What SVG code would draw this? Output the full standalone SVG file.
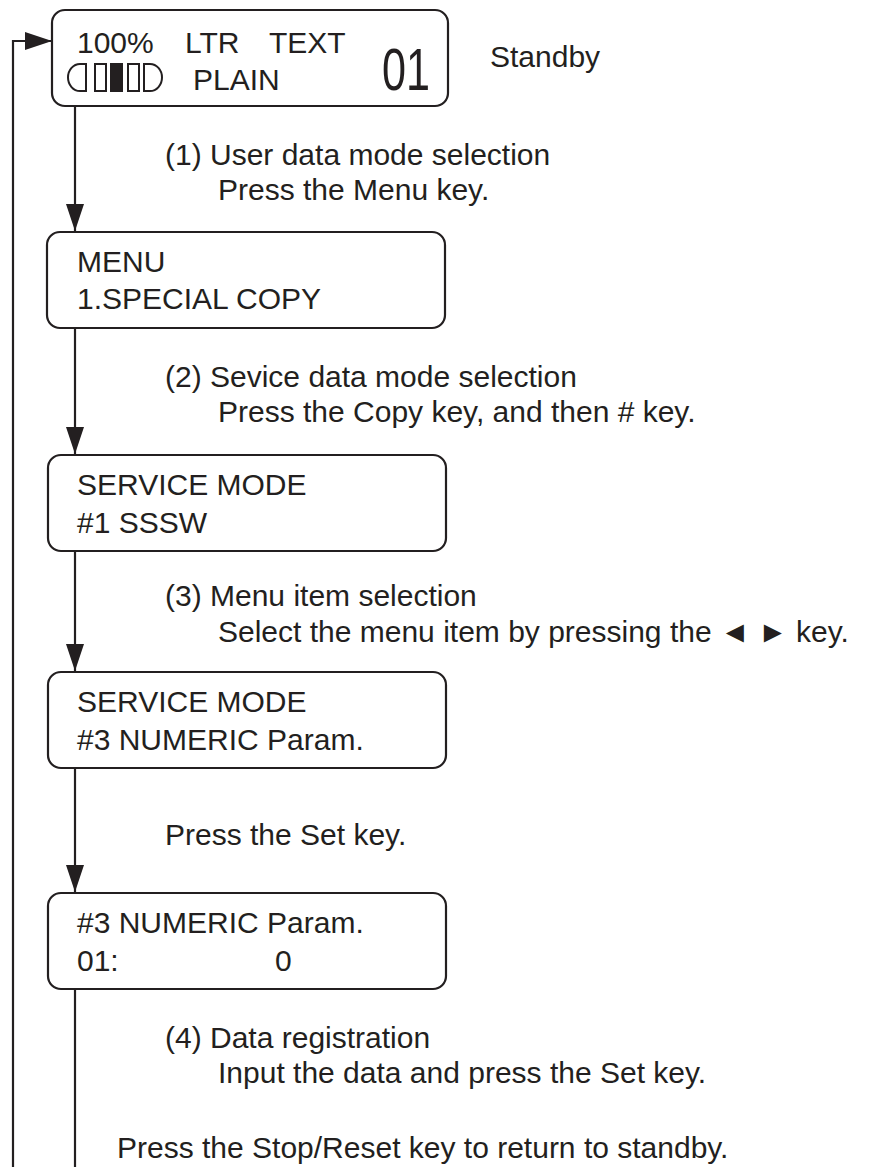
<svg xmlns="http://www.w3.org/2000/svg" width="876" height="1167" viewBox="0 0 876 1167">
<defs>
<marker id="ah" markerUnits="userSpaceOnUse" markerWidth="28" markerHeight="20" refX="27" refY="9" orient="auto">
<path d="M0,0 L27,9 L0,18 Z" fill="#231f20"/>
</marker>
<style>
.box{fill:#fff;stroke:#231f20;stroke-width:2.2}
.t{font-family:"Liberation Sans",Arial,sans-serif;font-size:30px;fill:#231f20}
.big{font-size:60px}
.ln{fill:none;stroke:#231f20;stroke-width:2.2}
</style>
</defs>
<rect width="876" height="1167" fill="#fff"/>
<g id="connectors">
<path class="ln" d="M13,1167 V41 H52" marker-end="url(#ah)"/>
<path class="ln" d="M75,106 V231" marker-end="url(#ah)"/>
<path class="ln" d="M75,328 V454" marker-end="url(#ah)"/>
<path class="ln" d="M75,551 V671" marker-end="url(#ah)"/>
<path class="ln" d="M75,768 V892" marker-end="url(#ah)"/>
<path class="ln" d="M75,989 V1167"/>
</g>
<g id="standby">
<rect class="box" x="52" y="10" width="396" height="96" rx="13"/>
<text class="t" x="77" y="53">100%</text>
<text class="t" x="185" y="53">LTR</text>
<text class="t" x="269" y="53">TEXT</text>
<text class="t" x="193" y="90">PLAIN</text>
<text class="t big" x="382" y="90" textLength="48" lengthAdjust="spacingAndGlyphs">01</text>
<g fill="none" stroke="#231f20" stroke-width="2">
<path d="M86,64 H80 A12,13.5 0 0 0 80,91 H86 Z"/>
<rect x="95" y="64" width="11" height="27"/>
<rect x="111" y="64" width="11" height="27" fill="#231f20"/>
<rect x="128" y="64" width="11" height="27"/>
<path d="M144,64 H150 A12,13.5 0 0 1 150,91 H144 Z"/>
</g>
</g>
<text class="t" x="490" y="67">Standby</text>
<g id="menu">
<rect class="box" x="47" y="232" width="398" height="96" rx="13"/>
<text class="t" x="77" y="272">MENU</text>
<text class="t" x="77" y="309">1.SPECIAL COPY</text>
</g>
<g id="service1">
<rect class="box" x="48" y="455" width="398" height="96" rx="13"/>
<text class="t" x="77" y="495">SERVICE MODE</text>
<text class="t" x="77" y="533">#1 SSSW</text>
</g>
<g id="service3">
<rect class="box" x="48" y="672" width="398" height="96" rx="13"/>
<text class="t" x="77" y="712">SERVICE MODE</text>
<text class="t" x="77" y="750">#3 NUMERIC Param.</text>
</g>
<g id="numeric">
<rect class="box" x="48" y="893" width="398" height="96" rx="13"/>
<text class="t" x="77" y="933">#3 NUMERIC Param.</text>
<text class="t" x="77" y="971">01:</text>
<text class="t" x="275" y="971">0</text>
</g>
<g id="labels">
<text class="t" x="165" y="165">(1) User data mode selection</text>
<text class="t" x="218" y="200">Press the Menu key.</text>
<text class="t" x="165" y="387">(2) Sevice data mode selection</text>
<text class="t" x="218" y="422">Press the Copy key, and then # key.</text>
<text class="t" x="165" y="606">(3) Menu item selection</text>
<text class="t" x="218" y="642">Select the menu item by pressing the ◄ ► key.</text>
<text class="t" x="165" y="845">Press the Set key.</text>
<text class="t" x="165" y="1048">(4) Data registration</text>
<text class="t" x="218" y="1083">Input the data and press the Set key.</text>
<text class="t" x="117" y="1158">Press the Stop/Reset key to return to standby.</text>
</g>
</svg>
